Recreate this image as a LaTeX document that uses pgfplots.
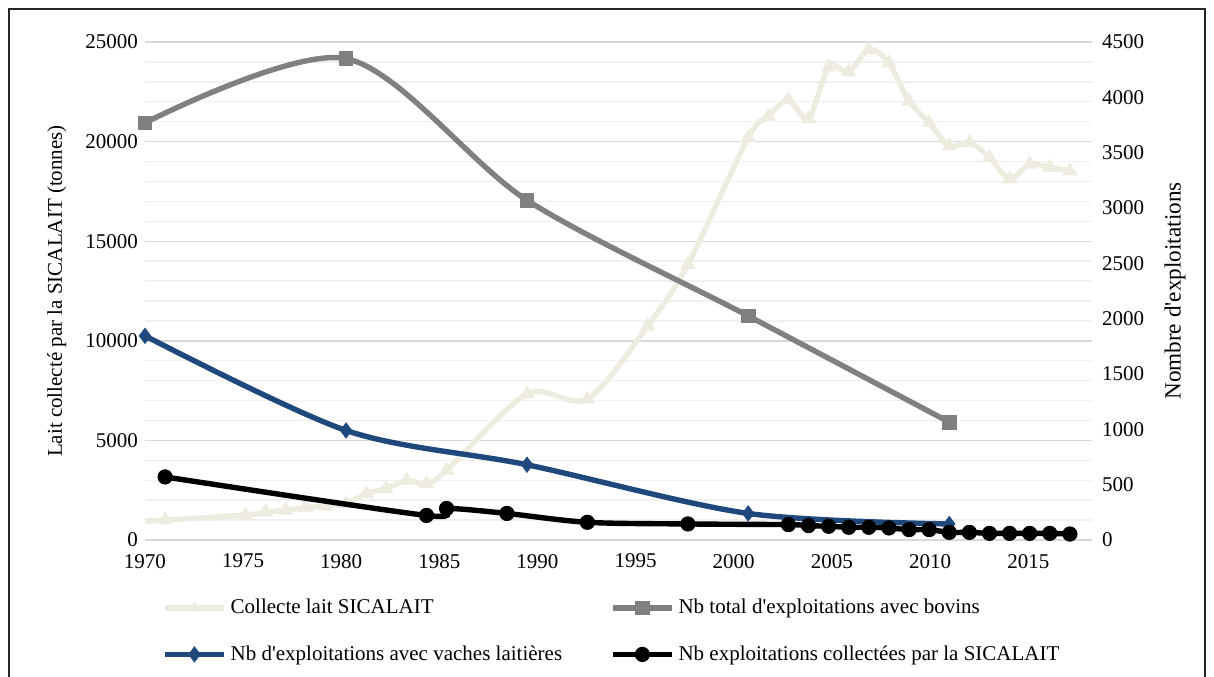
\documentclass[border=0pt]{standalone}
\usepackage{pgfplots}
\pgfplotsset{compat=1.18}
\usepackage{fontspec}
\setmainfont{Liberation Serif}
\newfontfamily\apf{Liberation Serif}
\newcommand\ap{{\apf'}}
\definecolor{lait}{HTML}{EEECE1}
\definecolor{bov}{HTML}{808080}
\definecolor{vl}{HTML}{1F497D}
\begin{document}
\begin{tikzpicture}[x=1pt,y=1pt]
\useasboundingbox (0,0) rectangle (607,338);
\draw[line width=0.7pt, black!85] (4.5,-10) -- (4.5,333.5) -- (602.5,333.5) -- (602.5,-10);
\pgfplotsset{
  base/.style={
    at={(72.5pt,68pt)}, anchor=south west,
    scale only axis, width=473.5pt, height=249pt,
    xmin=1970, xmax=2017.1,
    axis line style={draw=none},
    tick style={draw=none},
    major tick length=0pt, minor tick length=0pt,
    font=\fontsize{10.5}{12}\selectfont,
    /pgf/number format/assume math mode=true,
    /pgf/number format/1000 sep={},
    scaled y ticks=false,
    clip=false,
  },
  every axis plot/.append style={line width=2.7pt, smooth, tension=0.5},
}
\begin{axis}[base,
  ymin=0, ymax=25000,
  ytick={0,5000,...,25000},
  minor ytick={1000,2000,...,24000},
  ymajorgrids, yminorgrids,
  major grid style={draw=black!15, line width=0.7pt},
  minor grid style={draw=black!6, line width=0.7pt},
  xtick={1970,1974.88,1979.76,1984.64,1989.52,1994.40,1999.28,2004.16,2009.05,2013.93},
  xticklabels={1970,1975,1980,1985,1990,1995,2000,2005,2010,2015},
  xticklabel style={yshift=-3.5pt},
  ylabel={Lait collecté par la SICALAIT (tonnes)},
  ylabel style={at={(axis description cs:-0.093,0.5)}, anchor=center},
]
\addplot[lait, mark=none, forget plot] coordinates {(1970,950)(1971,1000)};
\addplot[lait, mark=triangle*, mark size=4pt, mark options={solid, line width=0.4pt}] coordinates {
(1971,1000)(1975,1250)(1976,1400)(1977,1500)(1978,1620)(1979,1700)(1980,1830)
(1981,2330)(1982,2580)(1983,3000)(1984,2830)(1985,3500)(1989,7330)(1992,7080)
(1995,10750)(1997,13830)(2000,20200)(2001,21280)(2002,22100)(2003,21150)
(2004,23750)(2005,23500)(2006,24620)(2007,23950)(2008,22030)(2009,20950)
(2010,19780)(2011,19950)(2012,19200)(2013,18120)(2014,18870)(2015,18700)(2016,18530)};
\end{axis}
\begin{axis}[base,
  ymin=0, ymax=4500, ytick={0,500,...,4500},
  axis y line*=right, axis x line=none, xtick=\empty,
  yticklabel style={xshift=1.5pt},
  ylabel={Nombre d\ap exploitations},
  ylabel style={at={(axis description cs:1.0877,0.5)}, anchor=center, font=\fontsize{11.6}{13}\selectfont},
  legend columns=2,
  legend cell align=left,
  legend style={at={(axis description cs:0.494,-0.183)}, anchor=center, draw=none, fill=none,
    font=\fontsize{10.5}{12}\selectfont, row sep=10.5pt,
    /tikz/every even column/.append style={column sep=22pt}},
  legend image code/.code={\draw[#1, mark repeat=2, mark phase=2] plot coordinates {(0pt,0pt) (14.75pt,0pt) (29.5pt,0pt)};},
]
\addlegendimage{lait, line width=2.7pt, mark=triangle*, mark size=3.2pt, mark options={solid, line width=0.4pt}}
\addlegendentry{Collecte lait SICALAIT}
\addplot[bov, mark=square*, mark size=3.4pt, mark options={solid, line width=0.4pt}] coordinates {
(1970,3770)(1980,4350)(1989,3070)(2000,2025)(2010,1065)};
\addlegendentry{Nb total d\ap exploitations avec bovins}
\addplot[vl, mark=diamond*, mark size=3.8pt, mark options={solid, line width=0.4pt}] coordinates {
(1970,1845)(1980,990)(1989,680)(2000,240)(2010,145)};
\addlegendentry{Nb d\ap exploitations avec vaches laitières}
\addplot[black, mark=*, mark size=3.6pt, mark options={solid, line width=0.4pt}] coordinates {
(1971,570)(1984,222)(1985,285)(1988,240)(1992,160)(1997,145)(2002,139)(2003,130)
(2004,124)(2005,115)(2006,115)(2007,109)(2008,94)(2009,94)(2010,69)(2011,69)
(2012,60)(2013,60)(2014,60)(2015,60)(2016,54)};
\addlegendentry{Nb exploitations collectées par la SICALAIT}
\end{axis}
\end{tikzpicture}
\end{document}
